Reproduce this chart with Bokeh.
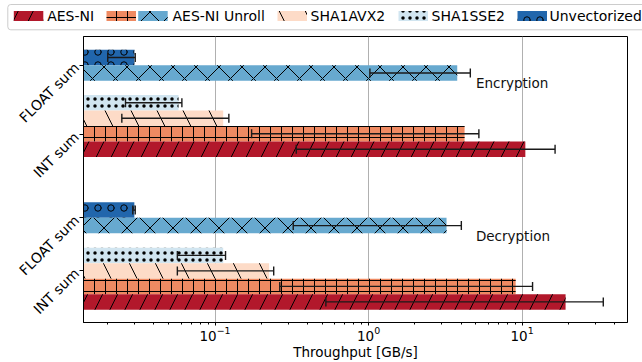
import math
from bokeh.plotting import figure
from bokeh.layouts import column
from bokeh.models import (Range1d, FixedTicker, Whisker, ColumnDataSource,
                          TeeHead, BoxAnnotation)
from bokeh.core.properties import value
from bokeh.embed import file_html
from bokeh.resources import INLINE

# ---------------- data ----------------
groups = ["Encryption", "Decryption"]
categories = ["FLOAT sum", "INT sum"]

# INT sum series (value, lower error end, upper error end) per group
aes_ni = [10.5, 19.2]
aes_ni_lo = [0.338, 0.527]
aes_ni_hi = [16.4, 33.8]

aes_ni_unroll_int = [4.22, 9.08]
aes_ni_unroll_int_lo = [0.173, 0.264]
aes_ni_unroll_int_hi = [5.23, 11.7]

sha1avx2 = [0.113, 0.225]
sha1avx2_lo = [0.0247, 0.0568]
sha1avx2_hi = [0.123, 0.241]

sha1sse2 = [0.0578, 0.113]
sha1sse2_lo = [0.0261, 0.0568]
sha1sse2_hi = [0.0608, 0.117]

# FLOAT sum series
aes_ni_unroll_float = [3.78, 3.22]
aes_ni_unroll_float_lo = [1.02, 0.323]
aes_ni_unroll_float_hi = [4.60, 4.02]

unvectorized = [0.0298, 0.0298]
unvectorized_lo = [0.0200, 0.0291]
unvectorized_hi = [0.0302, 0.0302]

legend_labels = ["AES-NI", "AES-NI Unroll", "SHA1AVX2", "SHA1SSE2", "Unvectorized"]
x_label = "Throughput [GB/s]"

# ---------------- styles ----------------
FONT = "DejaVu Sans"
C_RED, C_ORANGE, C_PEACH, C_LBLUE, C_BLUE, C_DBLUE = (
    "#b2182b", "#ef8a62", "#fddbc7", "#d1e5f0", "#67a9cf", "#2166ac")

# series: (values, lo, hi, category, slot, color, hatch, hatch_scale)
series = [
    (unvectorized, unvectorized_lo, unvectorized_hi, "FLOAT sum", 0, C_DBLUE, "o", 13),
    (aes_ni_unroll_float, aes_ni_unroll_float_lo, aes_ni_unroll_float_hi, "FLOAT sum", 1, C_BLUE, "x", 23),
    (sha1sse2, sha1sse2_lo, sha1sse2_hi, "INT sum", 0, C_LBLUE, ".", 7),
    (sha1avx2, sha1avx2_lo, sha1avx2_hi, "INT sum", 1, C_PEACH, "\\", 52),
    (aes_ni_unroll_int, aes_ni_unroll_int_lo, aes_ni_unroll_int_hi, "INT sum", 2, C_ORANGE, "+", 11),
    (aes_ni, aes_ni_lo, aes_ni_hi, "INT sum", 3, C_RED, "/", 30),
]

group_top = [1.35, 11.2]        # centre of first bar of each group (bar units)
int_offset = 2.92               # INT block starts this far below the FLOAT block
X0, X1 = 0.0139, 48.6
Y_BOTTOM = 18.45

def ypos(g, cat, slot):
    return group_top[g] + (int_offset if cat == "INT sum" else 0.0) + slot

# ---------------- main figure ----------------
p = figure(width=642, height=330, x_axis_type="log",
           x_range=Range1d(X0, X1), y_range=Range1d(Y_BOTTOM, 0),
           output_backend="svg", toolbar_location=None,
           min_border_left=83, min_border_right=15,
           min_border_top=4, min_border_bottom=30)
p.frame_align = False

for vals, lo, hi, cat, slot, color, hatch, hs in series:
    ys = [ypos(g, cat, slot) for g in range(len(groups))]
    src = ColumnDataSource(dict(y=ys, right=vals, left=[1e-3] * len(vals),
                                lo=lo, hi=hi))
    p.hbar(y="y", left="left", right="right", height=1.0, source=src,
           fill_color=color, line_color=None,
           hatch_pattern=hatch, hatch_color="black", hatch_scale=hs,
           hatch_weight=1.0)
    p.add_layout(Whisker(dimension="width", base="y", lower="lo", upper="hi",
                         source=src, level="annotation",
                         line_color="#1a1a1a", line_width=1.4,
                         upper_head=TeeHead(size=9, line_color="#1a1a1a", line_width=1.4),
                         lower_head=TeeHead(size=9, line_color="#1a1a1a", line_width=1.4)))

# group labels
p.text(x=[5.0] * len(groups), y=[g + 1.65 for g in group_top], text=groups,
       text_font=value(FONT), text_font_size="13.5px", text_baseline="middle",
       text_align="left", text_color="#111111")

# y axis ticks (FLOAT at pair centre, INT as in reference)
yt = {
    round(group_top[0] + 0.5, 3): categories[0],
    round(group_top[0] + int_offset + 2.05, 3): categories[1],
    round(group_top[1] + 0.5, 3): categories[0],
    round(group_top[1] + int_offset + 1.0, 3): categories[1],
}
p.yaxis.ticker = FixedTicker(ticks=list(yt.keys()), minor_ticks=[])
p.yaxis.major_label_overrides = yt
p.yaxis.major_label_orientation = math.pi / 4
p.yaxis.major_label_standoff = 3
p.yaxis.major_label_text_font = FONT
p.yaxis.major_label_text_font_size = "14px"
p.yaxis.major_label_text_color = "black"
p.yaxis.major_tick_out = 4
p.yaxis.major_tick_in = 0
p.yaxis.axis_line_color = "black"
p.yaxis.major_tick_line_color = "black"

major = [0.1, 1.0, 10.0]
minor = [k * 10.0 ** e for e in range(-2, 2) for k in range(2, 10)]
p.xaxis.ticker = FixedTicker(ticks=major, minor_ticks=minor)
p.xaxis.major_label_text_font = FONT
p.xaxis.major_label_text_font_size = "13.5px"
p.xaxis.major_label_text_color = "black"
p.xaxis.major_label_standoff = 0
p.xaxis.major_label_text_line_height = 1.0
p.xaxis.major_tick_out = 3
p.xaxis.major_tick_in = 0
p.xaxis.minor_tick_out = 2
p.xaxis.minor_tick_in = 0
p.xaxis.axis_line_color = "black"
p.xaxis.axis_label = x_label
p.xaxis.axis_label_text_font = FONT
p.xaxis.axis_label_text_font_size = "13.5px"
p.xaxis.axis_label_text_font_style = "normal"
p.xaxis.axis_label_text_color = "black"
p.xaxis.axis_label_text_line_height = 1.0
p.xaxis.axis_label_standoff = 0

p.ygrid.visible = False
p.xgrid.ticker = FixedTicker(ticks=major)
p.xgrid.grid_line_color = "#b0b0b0"
p.xgrid.grid_line_width = 1
p.outline_line_color = "black"
p.outline_line_width = 1
p.background_fill_color = "white"

# ---------------- legend figure ----------------
lg = figure(width=642, height=32, x_range=Range1d(0, 642), y_range=Range1d(32, 0),
            output_backend="svg", toolbar_location=None, min_border=0,
            x_axis_location=None, y_axis_location=None, outline_line_color=None)
lg.frame_align = False
lg.grid.visible = False
lg.add_layout(BoxAnnotation(left=7.3, right=660, top=4, bottom=29.3,
                            fill_color="white", fill_alpha=1,
                            line_color="#cccccc", line_alpha=1, line_width=1,
                            border_radius=3))
sw_left = [13.3, 106.0, 137.7, 277.0, 398.0, 517.0]
sw_style = [(C_RED, "/", 30), (C_ORANGE, "+", 11), (C_BLUE, "x", 23),
            (C_PEACH, "\\", 52), (C_LBLUE, ".", 7), (C_DBLUE, "o", 13)]
for xl, (c, h, hs) in zip(sw_left, sw_style):
    lg.quad(left=xl, right=xl + 29.5, top=10.5, bottom=20.5, fill_color=c,
            line_color=None, hatch_pattern=h, hatch_color="black",
            hatch_scale=hs, hatch_weight=1.0, level="overlay")
lg.text(x=[46.7, 172.0, 310.0, 431.0, 549.0], y=[15.5] * 5, text=legend_labels,
        text_font=value(FONT), text_font_size="14px", text_baseline="middle",
        text_align="left", text_color="black", level="overlay")

layout = column(lg, p, spacing=0)
open("out.html", "w").write(file_html(layout, INLINE))
